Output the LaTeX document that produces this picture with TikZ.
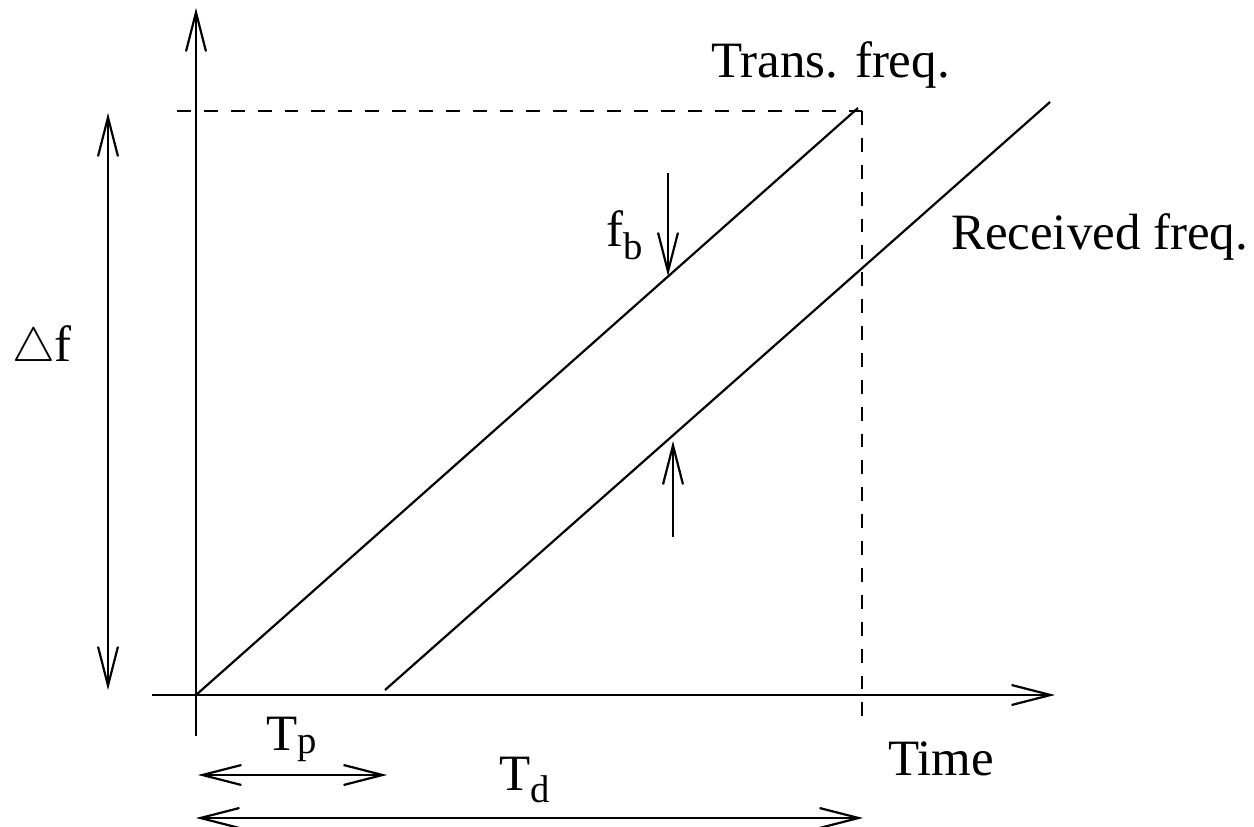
\documentclass[tikz,border=0pt]{standalone}
\usepackage{fontspec}
\setmainfont{Liberation Serif}
\usetikzlibrary{arrows.meta}
\newcommand\mysub[2]{{\fontsize{22}{26}\selectfont\raisebox{#1}{#2}}}
\begin{document}
\begin{tikzpicture}[x=0.02cm,y=-0.02cm,line width=1.25pt,
  tip/.style={-{Straight Barb[length=0.78cm,width=0.4cm,line width=1.25pt]}},
  dtip/.style={{Straight Barb[length=0.78cm,width=0.4cm,line width=1.25pt]}-{Straight Barb[length=0.78cm,width=0.4cm,line width=1.25pt]}},
  dashline/.style={dash pattern=on 7.9pt off 7.4pt},
  lbl/.style={anchor=base west,inner sep=0pt,font=\fontsize{29}{35}\selectfont}]
\useasboundingbox (0,0) rectangle (1254,827);
% coordinates
\coordinate (O) at (196,695);
\coordinate (ytop) at (196,8);
\coordinate (ybot) at (196,736);
\coordinate (xl) at (152,695);
\coordinate (xr) at (1055,695);
\coordinate (Ttop) at (858,108);
\coordinate (R0) at (385,690);
\coordinate (R1) at (1050,102);
\coordinate (dh0) at (177,111);
\coordinate (dh1) at (862,111);
\coordinate (dv0) at (862,111);
\coordinate (dv1) at (862,720);
\coordinate (df0) at (108,113);
\coordinate (df1) at (108,690);
\coordinate (fb0) at (668,173);
\coordinate (fb1) at (668,276);
\coordinate (up0) at (673,537);
\coordinate (up1) at (673,441);
\coordinate (tp0) at (198,775);
\coordinate (tp1) at (387,775);
\coordinate (td0) at (196,818);
\coordinate (td1) at (863,818);
% axes
\draw[tip] (ybot) -- (ytop);
\draw[tip] (xl) -- (xr);
% dashed
\draw[dashline] (dh0) -- (dh1);
\draw[dashline] (dv0) -- (dv1);
% lines
\draw (O) -- (Ttop);
\draw (R0) -- (R1);
% arrows
\draw[dtip] (df0) -- (df1);
\draw[tip] (fb0) -- (fb1);
\draw[tip] (up0) -- (up1);
\draw[dtip] (tp0) -- (tp1);
\draw[dtip] (td0) -- (td1);
% labels
\node[lbl] (trans) at (710,78) {Trans. freq.};
\node[lbl] (recv) at (950,250) {Received freq.};
\node[lbl] (time) at (887,775) {Time};
\node[lbl] (delta) at (11,362) {\scalebox{1.1}{$\triangle$}f};
\node[lbl] (tp) at (265,750) {T\mysub{-2pt}{p}};
\node[lbl] (td) at (498,790) {T\mysub{-7pt}{d}};
\node[lbl] (fb) at (605,247) {f\mysub{-7pt}{b}};
\end{tikzpicture}
\end{document}
